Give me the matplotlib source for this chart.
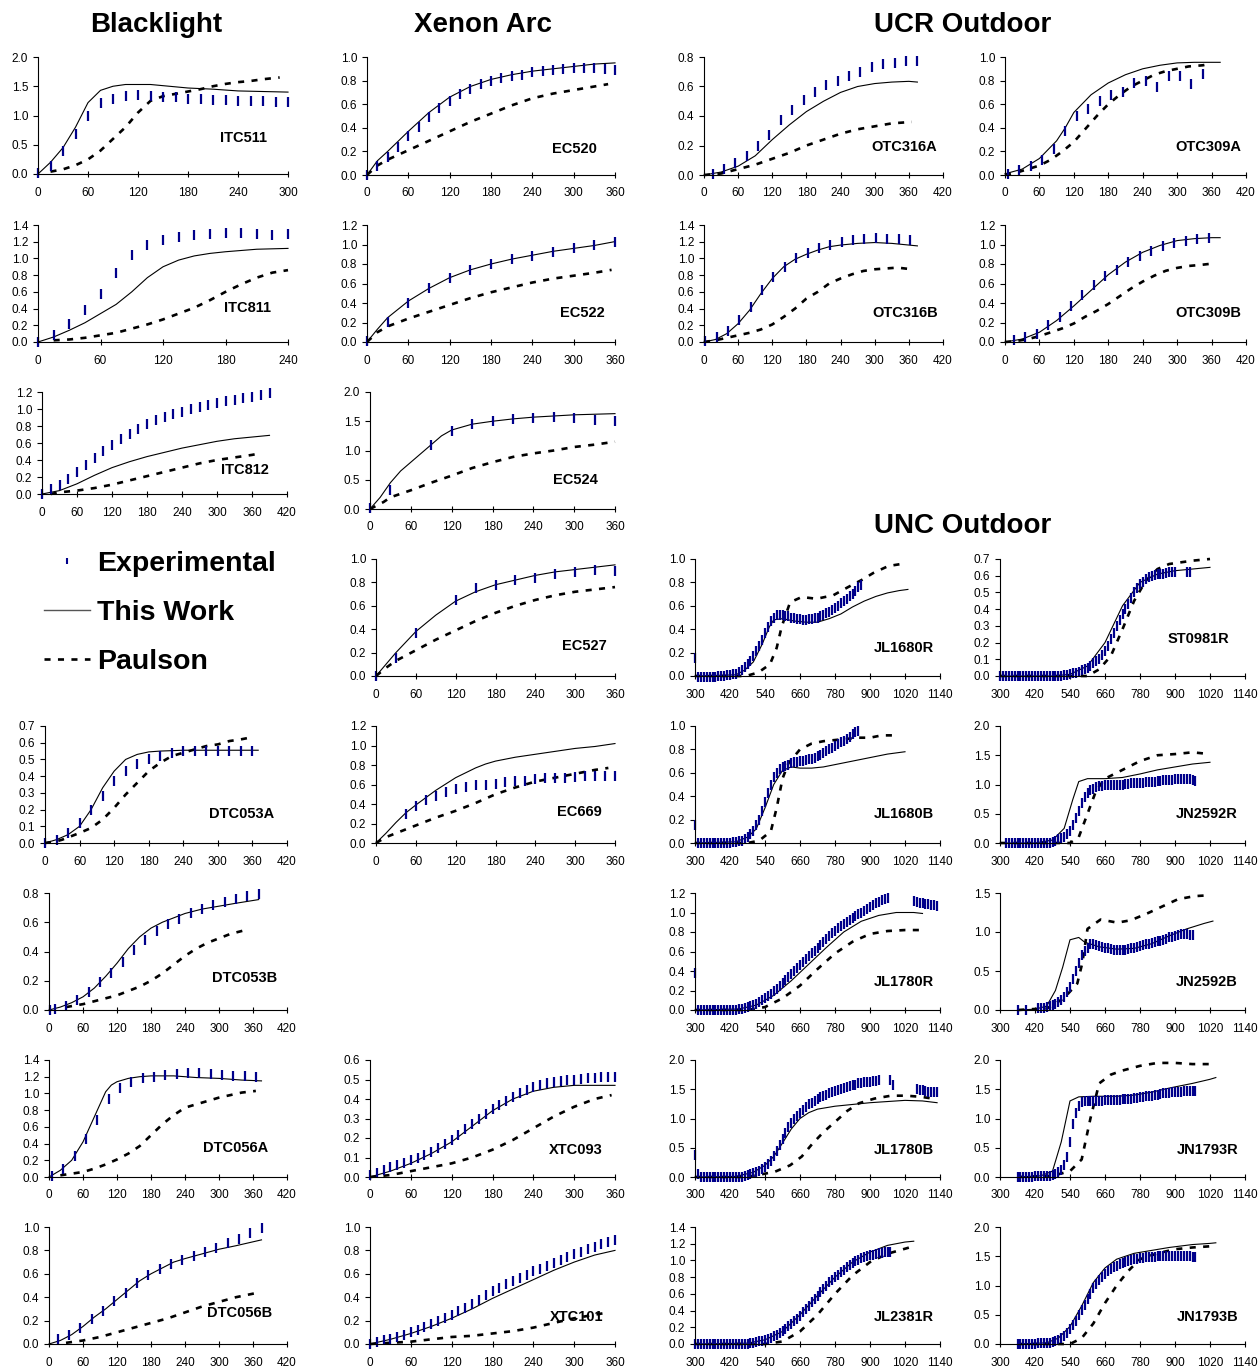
import numpy as np
import matplotlib
matplotlib.use("Agg")
import matplotlib.pyplot as plt
from matplotlib.lines import Line2D
from matplotlib.ticker import FixedLocator, FormatStrFormatter

W, H = 1258, 1367
plt.rcParams['font.family'] = ['Liberation Sans', 'DejaVu Sans']
NAVY = '#00008B'

# ---------------- Blacklight ----------------
ITC511_EXP_X = np.arange(0, 301, 15)
ITC511_EXP_Y = [0.01, 0.14, 0.40, 0.69, 1.00, 1.21, 1.29, 1.33, 1.35, 1.33, 1.31,
                1.31, 1.29, 1.28, 1.26, 1.26, 1.25, 1.24, 1.24, 1.23, 1.23]
ITC511_FIT = [(0, 0), (15, 0.2), (30, 0.45), (45, 0.8), (60, 1.22), (75, 1.43), (90, 1.5),
              (105, 1.53), (135, 1.53), (150, 1.51), (180, 1.47), (210, 1.45), (240, 1.42),
              (270, 1.41), (300, 1.40)]
ITC511_PAU = [(15, 0.04), (30, 0.08), (45, 0.15), (60, 0.25), (75, 0.4), (90, 0.6), (105, 0.8),
              (120, 1.05), (135, 1.25), (150, 1.33), (165, 1.37), (180, 1.41), (195, 1.45),
              (210, 1.50), (225, 1.54), (240, 1.57), (255, 1.59), (270, 1.62), (290, 1.65)]

ITC811_EXP_X = np.arange(0, 241, 15)
ITC811_EXP_Y = [0.0, 0.08, 0.22, 0.38, 0.57, 0.83, 1.04, 1.16, 1.22, 1.26, 1.28, 1.29,
                1.30, 1.30, 1.29, 1.28, 1.29]
ITC811_FIT = [(0, 0), (15, 0.06), (30, 0.14), (45, 0.23), (60, 0.34), (75, 0.45), (90, 0.6),
              (105, 0.77), (120, 0.9), (135, 0.98), (150, 1.03), (165, 1.06), (180, 1.08),
              (210, 1.11), (240, 1.12)]
ITC811_PAU = [(15, 0.02), (30, 0.03), (45, 0.05), (60, 0.08), (75, 0.11), (90, 0.16),
              (105, 0.21), (120, 0.27), (135, 0.34), (150, 0.41), (165, 0.5), (180, 0.6),
              (195, 0.69), (210, 0.77), (225, 0.83), (240, 0.86)]

ITC812_EXP_X = np.arange(0, 391, 15)
ITC812_EXP_Y = [0.0, 0.06, 0.11, 0.18, 0.26, 0.34, 0.42, 0.51, 0.58, 0.65, 0.71, 0.77,
                0.82, 0.87, 0.91, 0.94, 0.97, 1.00, 1.02, 1.05, 1.07, 1.09, 1.11, 1.13,
                1.14, 1.16, 1.19]
ITC812_FIT = [(0, 0), (30, 0.04), (60, 0.12), (90, 0.22), (120, 0.31), (150, 0.38),
              (180, 0.44), (210, 0.49), (240, 0.54), (270, 0.58), (300, 0.62), (330, 0.65),
              (360, 0.67), (390, 0.69)]
ITC812_PAU = [(15, 0.0), (30, 0.02), (60, 0.04), (90, 0.07), (120, 0.11), (150, 0.16),
              (180, 0.21), (210, 0.26), (240, 0.31), (270, 0.36), (300, 0.4), (330, 0.43),
              (360, 0.46), (375, 0.48)]

DTC053A_EXP_X = np.arange(0, 361, 20)
DTC053A_EXP_Y = [0.0, 0.02, 0.06, 0.12, 0.20, 0.28, 0.37, 0.43, 0.47, 0.50, 0.52, 0.54,
                 0.55, 0.55, 0.55, 0.55, 0.55, 0.55, 0.55]
DTC053A_FIT = [(0, 0), (20, 0.02), (40, 0.05), (60, 0.1), (80, 0.2), (100, 0.33), (120, 0.43),
               (140, 0.5), (160, 0.53), (180, 0.545), (200, 0.55), (240, 0.555), (370, 0.555)]
DTC053A_PAU = [(0, 0), (20, 0.01), (30, 0.02), (45, 0.04), (60, 0.06), (80, 0.09), (100, 0.14),
               (120, 0.21), (140, 0.29), (160, 0.36), (180, 0.43), (200, 0.48), (220, 0.52),
               (240, 0.54), (260, 0.56), (280, 0.58), (300, 0.59), (320, 0.61), (340, 0.62),
               (355, 0.63)]

DTC053B_EXP_X = [2, 10, 30, 50, 70, 90, 110, 130, 150, 170, 190, 210, 230, 250, 270, 290,
                 310, 330, 350, 370]
DTC053B_EXP_Y = [0.0, 0.01, 0.03, 0.07, 0.12, 0.19, 0.25, 0.33, 0.41, 0.48, 0.54, 0.59,
                 0.62, 0.66, 0.69, 0.72, 0.74, 0.76, 0.78, 0.79]
DTC053B_FIT = [(0, 0), (20, 0.02), (40, 0.05), (60, 0.09), (80, 0.15), (100, 0.23), (120, 0.32),
               (140, 0.42), (160, 0.5), (180, 0.56), (200, 0.6), (220, 0.63), (240, 0.66),
               (270, 0.69), (300, 0.71), (330, 0.73), (370, 0.755)]
DTC053B_PAU = [(30, 0.02), (60, 0.04), (80, 0.06), (100, 0.08), (120, 0.1), (140, 0.13),
               (160, 0.16), (180, 0.2), (200, 0.25), (220, 0.31), (240, 0.37), (260, 0.42),
               (280, 0.46), (300, 0.49), (320, 0.52), (350, 0.55)]

DTC056A_EXP_X = np.arange(5, 366, 20)
DTC056A_EXP_Y = [0.01, 0.10, 0.25, 0.45, 0.68, 0.93, 1.06, 1.14, 1.18, 1.20, 1.22, 1.23,
                 1.24, 1.24, 1.23, 1.22, 1.21, 1.21, 1.20]
DTC056A_FIT = [(0, 0), (20, 0.08), (40, 0.2), (60, 0.42), (80, 0.72), (100, 1.02), (110, 1.1),
               (120, 1.14), (140, 1.18), (160, 1.2), (180, 1.21), (220, 1.21), (260, 1.19),
               (300, 1.18), (340, 1.16), (375, 1.15)]
DTC056A_PAU = [(20, 0.02), (30, 0.03), (60, 0.06), (80, 0.1), (100, 0.15), (120, 0.21),
               (140, 0.28), (160, 0.37), (180, 0.5), (200, 0.63), (220, 0.74), (240, 0.83),
               (260, 0.87), (280, 0.91), (300, 0.95), (320, 0.98), (340, 1.01), (365, 1.03)]

DTC056B_EXP_X = np.arange(15, 376, 20)
DTC056B_EXP_Y = [0.04, 0.08, 0.14, 0.21, 0.28, 0.37, 0.44, 0.52, 0.59, 0.64, 0.68, 0.72,
                 0.75, 0.79, 0.82, 0.86, 0.90, 0.95, 0.99]
DTC056B_FIT = [(0, 0), (20, 0.03), (40, 0.08), (60, 0.15), (80, 0.23), (100, 0.3), (120, 0.38),
               (140, 0.46), (160, 0.54), (180, 0.6), (200, 0.65), (220, 0.7), (240, 0.73),
               (270, 0.77), (300, 0.81), (330, 0.84), (375, 0.89)]
DTC056B_PAU = [(30, 0.01), (60, 0.03), (90, 0.06), (120, 0.1), (150, 0.14), (180, 0.18),
               (210, 0.22), (240, 0.27), (270, 0.32), (300, 0.36), (330, 0.4), (370, 0.44)]

# ---------------- Xenon Arc ----------------
EC520_EXP_X = np.arange(0, 361, 15)
EC520_EXP_Y = [0.0, 0.08, 0.15, 0.24, 0.33, 0.41, 0.49, 0.57, 0.63, 0.69, 0.73, 0.77, 0.80,
               0.82, 0.84, 0.85, 0.87, 0.88, 0.89, 0.90, 0.91, 0.91, 0.91, 0.90, 0.89]
EC520_FIT = [(0, 0), (15, 0.12), (30, 0.2), (60, 0.37), (90, 0.53), (120, 0.66), (150, 0.75),
             (180, 0.81), (210, 0.85), (240, 0.88), (270, 0.9), (300, 0.92), (330, 0.94),
             (360, 0.95)]
EC520_PAU = [(0, 0), (15, 0.08), (30, 0.13), (60, 0.21), (90, 0.29), (120, 0.37), (150, 0.45),
             (180, 0.52), (210, 0.59), (240, 0.65), (270, 0.69), (300, 0.72), (330, 0.75),
             (350, 0.77)]

EC522_EXP_X = np.arange(0, 361, 30)
EC522_EXP_Y = [0.01, 0.21, 0.40, 0.55, 0.66, 0.74, 0.80, 0.85, 0.88, 0.92, 0.96, 0.99, 1.03]
EC522_FIT = [(0, 0), (15, 0.13), (30, 0.25), (60, 0.42), (90, 0.55), (120, 0.66), (150, 0.74),
             (180, 0.8), (210, 0.85), (240, 0.89), (270, 0.93), (300, 0.96), (330, 0.99),
             (360, 1.03)]
EC522_PAU = [(0, 0), (15, 0.1), (30, 0.16), (60, 0.24), (90, 0.31), (120, 0.38), (150, 0.45),
             (180, 0.51), (210, 0.56), (240, 0.61), (270, 0.65), (300, 0.68), (330, 0.71),
             (355, 0.74)]

EC524_EXP_X = [0, 30, 90, 120, 150, 180, 210, 240, 270, 300, 330, 360]
EC524_EXP_Y = [0.02, 0.32, 1.10, 1.33, 1.45, 1.50, 1.53, 1.56, 1.57, 1.55, 1.52, 1.50]
EC524_FIT = [(0, 0), (15, 0.2), (30, 0.45), (45, 0.65), (60, 0.8), (90, 1.1), (105, 1.25),
             (120, 1.35), (150, 1.45), (180, 1.5), (210, 1.54), (240, 1.57), (270, 1.59),
             (300, 1.61), (330, 1.62), (360, 1.63)]
EC524_PAU = [(0, 0), (20, 0.12), (30, 0.2), (45, 0.26), (60, 0.32), (90, 0.45), (120, 0.57),
             (150, 0.7), (180, 0.8), (210, 0.89), (240, 0.95), (270, 1.0), (300, 1.06),
             (330, 1.1), (360, 1.15)]

EC527_EXP_X = [0, 30, 60, 120, 150, 180, 210, 240, 270, 300, 330, 360]
EC527_EXP_Y = [0.0, 0.15, 0.37, 0.65, 0.75, 0.78, 0.82, 0.84, 0.87, 0.89, 0.91, 0.90]
EC527_FIT = [(0, 0), (15, 0.1), (30, 0.2), (60, 0.38), (90, 0.52), (120, 0.64), (150, 0.72),
             (180, 0.78), (210, 0.82), (240, 0.86), (270, 0.89), (300, 0.91), (330, 0.93),
             (360, 0.95)]
EC527_PAU = [(0, 0), (15, 0.07), (30, 0.13), (60, 0.22), (90, 0.31), (120, 0.39), (150, 0.47),
             (180, 0.54), (210, 0.6), (240, 0.65), (270, 0.69), (300, 0.72), (330, 0.74),
             (360, 0.76)]

EC669_EXP_X = np.arange(45, 361, 15)
EC669_EXP_Y = [0.30, 0.38, 0.44, 0.48, 0.52, 0.55, 0.57, 0.59, 0.60, 0.61, 0.63, 0.64,
               0.64, 0.66, 0.67, 0.67, 0.67, 0.68, 0.69, 0.69, 0.69, 0.69]
EC669_FIT = [(0, 0), (15, 0.1), (30, 0.21), (45, 0.31), (60, 0.39), (90, 0.54), (120, 0.67),
             (150, 0.77), (165, 0.81), (180, 0.84), (210, 0.88), (240, 0.91), (270, 0.94),
             (300, 0.97), (330, 0.99), (360, 1.02)]
EC669_PAU = [(0, 0), (15, 0.06), (30, 0.1), (60, 0.18), (90, 0.26), (120, 0.33), (150, 0.41),
             (180, 0.5), (210, 0.57), (240, 0.63), (270, 0.67), (300, 0.71), (330, 0.75),
             (350, 0.77)]

XTC093_EXP_X = np.arange(0, 361, 10)
XTC093_EXP_Y = [0.01, 0.02, 0.035, 0.05, 0.06, 0.07, 0.085, 0.10, 0.115, 0.13,
                0.15, 0.17, 0.19, 0.215, 0.245, 0.27, 0.30, 0.325, 0.35, 0.37,
                0.39, 0.41, 0.43, 0.445, 0.46, 0.47, 0.48, 0.485, 0.49, 0.495,
                0.50, 0.505, 0.51, 0.51, 0.512, 0.514, 0.515]
XTC093_FIT = [(0, 0), (30, 0.03), (60, 0.07), (90, 0.12), (120, 0.18), (150, 0.26),
              (180, 0.34), (210, 0.4), (240, 0.44), (270, 0.46), (300, 0.47), (330, 0.47),
              (360, 0.47)]
XTC093_PAU = [(0, 0), (30, 0.01), (60, 0.03), (90, 0.05), (120, 0.07), (150, 0.1),
              (180, 0.14), (210, 0.19), (240, 0.25), (270, 0.31), (300, 0.36), (330, 0.4),
              (355, 0.42)]

XTC101_EXP_X = np.arange(0, 361, 10)
XTC101_EXP_Y = [0.0, 0.015, 0.03, 0.045, 0.06, 0.08, 0.10, 0.12, 0.145, 0.17,
                0.195, 0.22, 0.25, 0.28, 0.31, 0.345, 0.38, 0.415, 0.45, 0.48,
                0.51, 0.54, 0.565, 0.59, 0.62, 0.645, 0.67, 0.695, 0.72, 0.745,
                0.77, 0.79, 0.81, 0.83, 0.855, 0.875, 0.89]
XTC101_FIT = [(0, 0), (30, 0.04), (60, 0.09), (90, 0.15), (120, 0.22), (150, 0.3),
              (180, 0.39), (210, 0.47), (240, 0.55), (270, 0.63), (300, 0.7), (330, 0.76),
              (360, 0.8)]
XTC101_PAU = [(0, 0), (30, 0.01), (60, 0.02), (90, 0.04), (120, 0.06), (150, 0.07),
              (180, 0.09), (210, 0.11), (240, 0.14), (270, 0.18), (300, 0.22), (330, 0.25),
              (350, 0.27)]

# ---------------- UCR Outdoor ----------------
OTC316A_EXP_X = np.arange(15, 376, 20)
OTC316A_EXP_Y = [0.01, 0.04, 0.08, 0.13, 0.20, 0.27, 0.37, 0.44, 0.51, 0.56, 0.61, 0.64,
                 0.67, 0.70, 0.73, 0.75, 0.76, 0.77, 0.77]
OTC316A_FIT = [(0, 0), (30, 0.02), (60, 0.06), (90, 0.13), (120, 0.24), (150, 0.34),
               (180, 0.43), (210, 0.5), (240, 0.56), (270, 0.6), (300, 0.62), (330, 0.63),
               (360, 0.635), (375, 0.63)]
OTC316A_PAU = [(0, 0), (30, 0.01), (60, 0.04), (90, 0.07), (120, 0.11), (150, 0.15),
               (180, 0.2), (210, 0.24), (240, 0.28), (270, 0.31), (300, 0.33), (330, 0.35),
               (365, 0.36)]

OTC309A_EXP_X = np.arange(5, 346, 20)
OTC309A_EXP_Y = [0.01, 0.04, 0.08, 0.13, 0.22, 0.37, 0.50, 0.56, 0.63, 0.68, 0.70, 0.78,
                 0.80, 0.75, 0.84, 0.84, 0.77, 0.86]
OTC309A_FIT = [(0, 0.01), (30, 0.05), (60, 0.14), (90, 0.29), (105, 0.4), (120, 0.53),
               (150, 0.68), (180, 0.78), (210, 0.85), (240, 0.9), (270, 0.93), (300, 0.95),
               (330, 0.955), (375, 0.955)]
OTC309A_PAU = [(0, 0), (20, 0.02), (40, 0.05), (60, 0.08), (80, 0.13), (100, 0.2),
               (120, 0.28), (140, 0.39), (160, 0.5), (180, 0.6), (200, 0.68), (220, 0.75),
               (240, 0.8), (260, 0.85), (280, 0.88), (300, 0.9), (320, 0.92), (345, 0.93),
               (355, 0.94)]

OTC316B_EXP_X = np.arange(2, 363, 20)
OTC316B_EXP_Y = [0.01, 0.06, 0.13, 0.26, 0.42, 0.62, 0.78, 0.90, 1.00, 1.07, 1.13, 1.16,
                 1.20, 1.22, 1.23, 1.24, 1.23, 1.23, 1.22]
OTC316B_FIT = [(0, 0), (20, 0.03), (40, 0.1), (60, 0.22), (80, 0.38), (100, 0.58),
               (120, 0.76), (140, 0.9), (160, 0.99), (180, 1.05), (200, 1.1), (220, 1.14),
               (240, 1.16), (270, 1.18), (300, 1.19), (330, 1.18), (360, 1.16), (375, 1.15)]
OTC316B_PAU = [(0, 0), (20, 0.02), (40, 0.05), (60, 0.08), (80, 0.11), (100, 0.15),
               (120, 0.21), (140, 0.3), (160, 0.4), (180, 0.52), (200, 0.6), (220, 0.7),
               (240, 0.76), (260, 0.81), (280, 0.85), (300, 0.87), (320, 0.88), (340, 0.89),
               (365, 0.87)]

OTC309B_EXP_X = np.arange(15, 356, 20)
OTC309B_EXP_Y = [0.02, 0.05, 0.08, 0.17, 0.26, 0.37, 0.48, 0.58, 0.68, 0.74, 0.82, 0.88,
                 0.93, 0.98, 1.02, 1.04, 1.06, 1.07]
OTC309B_FIT = [(0, 0), (30, 0.03), (60, 0.1), (90, 0.22), (120, 0.37), (150, 0.53),
               (180, 0.69), (210, 0.82), (240, 0.92), (270, 0.99), (300, 1.04), (330, 1.06),
               (360, 1.07), (375, 1.07)]
OTC309B_PAU = [(0, 0), (20, 0.01), (40, 0.03), (60, 0.06), (80, 0.1), (100, 0.14),
               (120, 0.19), (140, 0.26), (160, 0.32), (180, 0.39), (200, 0.47), (220, 0.55),
               (240, 0.62), (260, 0.68), (280, 0.73), (300, 0.76), (320, 0.78), (340, 0.79),
               (355, 0.8)]

# ---------------- UNC Outdoor (experimental every 10 min from START) ----------------
nan = np.nan
JL1680R_START = 300
JL1680R_EXP_Y = [0.15, -0.01, -0.01, -0.01, -0.01, -0.01, -0.01, -0.005, 0.0, 0.0,
                 0.0, 0.005, 0.01, 0.015, 0.02, 0.035, 0.05, 0.075, 0.10, 0.13,
                 0.17, 0.21, 0.26, 0.31, 0.37, 0.42, 0.47, 0.50, 0.52, 0.52,
                 0.52, 0.515, 0.51, 0.50, 0.495, 0.49, 0.485, 0.48, 0.48, 0.485,
                 0.49, 0.495, 0.50, 0.51, 0.52, 0.535, 0.55, 0.565, 0.58, 0.60,
                 0.62, 0.64, 0.66, 0.68, 0.70, 0.73, 0.76, 0.78]
JL1680R_FIT = [(300, 0), (440, 0.01), (470, 0.05), (500, 0.12), (530, 0.27), (555, 0.42),
               (570, 0.48), (600, 0.49), (640, 0.47), (680, 0.46), (720, 0.46), (760, 0.49),
               (800, 0.53), (840, 0.59), (880, 0.64), (920, 0.68), (960, 0.71), (1000, 0.73),
               (1030, 0.74)]
JL1680R_PAU = [(300, 0), (475, 0.0), (517, 0.03), (557, 0.1), (580, 0.24), (597, 0.42),
               (626, 0.63), (666, 0.675), (717, 0.66), (774, 0.69), (825, 0.76), (871, 0.82),
               (911, 0.88), (963, 0.94), (1014, 0.96)]

JL1680B_START = 300
JL1680B_EXP_Y = [0.15, 0.0, 0.0, 0.0, 0.0, 0.0, 0.0, 0.0, 0.0, 0.0,
                 0.0, 0.0, 0.0, 0.005, 0.01, 0.015, 0.02, 0.035, 0.05, 0.075,
                 0.10, 0.15, 0.20, 0.27, 0.35, 0.43, 0.50, 0.56, 0.60, 0.63,
                 0.65, 0.66, 0.67, 0.68, 0.69, 0.695, 0.70, 0.705, 0.71, 0.715,
                 0.72, 0.73, 0.74, 0.755, 0.77, 0.785, 0.80, 0.815, 0.83, 0.845,
                 0.86, 0.875, 0.89, 0.91, 0.93, 0.95, 0.96]
JL1680B_FIT = [(300, 0), (440, 0.01), (480, 0.05), (510, 0.12), (540, 0.3), (570, 0.5),
               (600, 0.62), (630, 0.65), (660, 0.64), (700, 0.64), (740, 0.65), (780, 0.67),
               (840, 0.7), (900, 0.73), (960, 0.76), (1020, 0.78)]
JL1680B_PAU = [(300, 0), (480, 0.0), (520, 0.02), (560, 0.1), (580, 0.3), (600, 0.55),
               (620, 0.68), (660, 0.8), (700, 0.85), (740, 0.87), (780, 0.88), (820, 0.89),
               (860, 0.9), (900, 0.9), (940, 0.92), (980, 0.92)]

JL1780R_START = 300
JL1780R_EXP_Y = [0.38, 0.0, 0.0, 0.0, 0.0, 0.0, 0.0, 0.0, 0.0, 0.0,
                 0.0, 0.0, 0.0, 0.0, 0.0, 0.01, 0.015, 0.02, 0.03, 0.04,
                 0.05, 0.065, 0.08, 0.10, 0.12, 0.14, 0.165, 0.19, 0.22, 0.25,
                 0.28, 0.31, 0.34, 0.37, 0.40, 0.43, 0.46, 0.49, 0.52, 0.55,
                 0.58, 0.61, 0.64, 0.67, 0.70, 0.73, 0.76, 0.79, 0.81, 0.84,
                 0.86, 0.88, 0.90, 0.92, 0.94, 0.96, 0.98, 1.00, 1.02, 1.04,
                 1.06, 1.08, 1.10, 1.11, 1.13, 1.14, 1.15, nan, nan, nan,
                 nan, nan, nan, nan, nan, 1.12, 1.11, 1.10, 1.10, 1.09,
                 1.09, 1.08, 1.08, 1.07]
JL1780R_FIT = [(300, 0), (450, 0.01), (510, 0.05), (570, 0.15), (630, 0.3), (690, 0.47),
               (750, 0.64), (810, 0.8), (870, 0.91), (930, 0.97), (990, 1.0), (1050, 1.0),
               (1080, 0.99)]
JL1780R_PAU = [(300, 0), (480, 0), (540, 0.03), (600, 0.12), (660, 0.25), (720, 0.42),
               (780, 0.58), (840, 0.7), (900, 0.78), (960, 0.81), (1020, 0.82), (1080, 0.82)]

JL1780B_START = 300
JL1780B_EXP_Y = [0.37, 0.05, 0.0, 0.0, 0.0, 0.0, 0.0, 0.0, 0.0, 0.0,
                 0.0, 0.0, 0.0, 0.0, 0.0, 0.0, 0.0, 0.02, 0.03, 0.045,
                 0.06, 0.08, 0.10, 0.13, 0.17, 0.22, 0.28, 0.36, 0.45, 0.55,
                 0.65, 0.75, 0.85, 0.93, 1.00, 1.05, 1.10, 1.15, 1.20, 1.24,
                 1.27, 1.30, 1.33, 1.36, 1.38, 1.41, 1.43, 1.45, 1.47, 1.49,
                 1.51, 1.52, 1.54, 1.55, 1.57, 1.58, 1.60, 1.61, 1.62, 1.62,
                 1.63, 1.64, 1.64, 1.65, nan, nan, nan, 1.65, 1.58, nan,
                 nan, nan, nan, nan, nan, nan, 1.50, 1.49, 1.48, 1.47,
                 1.46, 1.45, 1.45, 1.45]
JL1780B_FIT = [(300, 0), (440, 0.01), (500, 0.08), (540, 0.2), (570, 0.35), (600, 0.58),
               (630, 0.82), (660, 1.0), (690, 1.1), (720, 1.16), (780, 1.21), (840, 1.24),
               (900, 1.27), (960, 1.29), (1020, 1.31), (1080, 1.3), (1130, 1.27)]
JL1780B_PAU = [(300, 0), (475, 0.0), (522, 0.04), (574, 0.09), (626, 0.2), (666, 0.35),
               (701, 0.56), (741, 0.77), (782, 0.95), (822, 1.13), (862, 1.26), (915, 1.34),
               (972, 1.39), (1024, 1.39), (1076, 1.37), (1128, 1.33)]

JL2381R_START = 300
JL2381R_EXP_Y = [0.0, 0.0, 0.0, 0.0, 0.0, 0.0, 0.0, 0.0, 0.0, 0.0,
                 0.0, 0.0, 0.0, 0.0, 0.0, 0.0, 0.0, 0.0, 0.005, 0.01,
                 0.015, 0.02, 0.03, 0.04, 0.05, 0.06, 0.075, 0.09, 0.11, 0.13,
                 0.15, 0.18, 0.21, 0.24, 0.27, 0.30, 0.34, 0.38, 0.42, 0.46,
                 0.50, 0.54, 0.58, 0.62, 0.66, 0.70, 0.74, 0.77, 0.80, 0.83,
                 0.86, 0.89, 0.92, 0.95, 0.97, 0.99, 1.01, 1.03, 1.04, 1.05,
                 1.06, 1.07, 1.08, 1.09, 1.09, 1.10, 1.10, 1.10]
JL2381R_FIT = [(300, 0), (480, 0.01), (540, 0.05), (600, 0.15), (660, 0.35), (720, 0.58),
               (780, 0.8), (840, 0.98), (900, 1.1), (960, 1.18), (1020, 1.22), (1050, 1.23)]
JL2381R_PAU = [(300, 0), (540, 0.0), (600, 0.03), (660, 0.15), (720, 0.35), (780, 0.6),
               (840, 0.82), (900, 0.98), (960, 1.08), (1040, 1.16)]

ST0981R_START = 300
ST0981R_EXP_Y = [0.0, 0.0, 0.0, 0.0, 0.0, 0.0, 0.0, 0.0, 0.0, 0.0,
                 0.0, 0.0, 0.0, 0.0, 0.0, 0.0, 0.0, 0.0, 0.0, 0.0,
                 0.0, 0.0, 0.005, 0.005, 0.01, 0.015, 0.02, 0.025, 0.035, 0.04,
                 0.05, 0.06, 0.075, 0.09, 0.10, 0.125, 0.15, 0.18, 0.22, 0.26,
                 0.30, 0.335, 0.37, 0.40, 0.43, 0.465, 0.50, 0.525, 0.55, 0.565,
                 0.58, 0.59, 0.60, 0.605, 0.61, 0.61, 0.61, 0.615, 0.62, 0.62,
                 0.62, nan, nan, nan, 0.62, 0.62]
ST0981R_FIT = [(300, 0), (480, 0.0), (540, 0.01), (600, 0.06), (660, 0.2), (720, 0.42),
               (780, 0.56), (840, 0.61), (900, 0.63), (960, 0.64), (1020, 0.65)]
ST0981R_PAU = [(300, 0), (600, 0.0), (640, 0.04), (680, 0.12), (720, 0.28), (760, 0.45),
               (800, 0.57), (840, 0.64), (880, 0.67), (920, 0.68), (960, 0.69), (1020, 0.7)]

JN2592R_START = 320
JN2592R_EXP_Y = [0.0, 0.0, 0.0, 0.0, 0.0, 0.0, 0.0, 0.0, 0.0, 0.0,
                 0.0, 0.0, 0.0, 0.0, 0.0, 0.0, 0.02, 0.04, 0.06, 0.08,
                 0.11, 0.15, 0.20, 0.30, 0.42, 0.55, 0.68, 0.78, 0.85, 0.90,
                 0.93, 0.95, 0.97, 0.98, 0.99, 0.995, 1.0, 1.0, 1.0, 1.0,
                 1.0, 1.01, 1.01, 1.02, 1.02, 1.02, 1.03, 1.03, 1.04, 1.04,
                 1.05, 1.05, 1.06, 1.06, 1.07, 1.07, 1.08, 1.08, 1.09, 1.09,
                 1.10, 1.10, 1.10, 1.09, 1.08, 1.06]
JN2592R_FIT = [(300, 0), (420, 0.0), (480, 0.05), (520, 0.25), (550, 0.75), (570, 1.05),
               (600, 1.1), (660, 1.1), (720, 1.12), (780, 1.18), (840, 1.25), (900, 1.3),
               (960, 1.35), (1020, 1.38)]
JN2592R_PAU = [(300, 0), (540, 0.0), (570, 0.1), (600, 0.5), (630, 0.9), (660, 1.1),
               (700, 1.2), (740, 1.3), (780, 1.4), (840, 1.5), (900, 1.52), (960, 1.55),
               (1020, 1.52)]

JN2592B_START = 360
JN2592B_EXP_Y = [0.0, nan, nan, 0.0, nan, nan, nan, 0.02, 0.025, 0.03,
                 0.04, 0.05, 0.06, 0.08, 0.10, 0.13, 0.17, 0.23, 0.30, 0.40,
                 0.50, 0.60, 0.70, 0.76, 0.80, 0.84, 0.84, 0.83, 0.82, 0.81,
                 0.80, 0.79, 0.78, 0.775, 0.77, 0.77, 0.77, 0.775, 0.78, 0.79,
                 0.80, 0.81, 0.82, 0.83, 0.84, 0.85, 0.86, 0.87, 0.88, 0.89,
                 0.90, 0.915, 0.93, 0.94, 0.95, 0.96, 0.97, 0.97, 0.97, 0.965,
                 0.96]
JN2592B_FIT = [(360, 0), (420, 0.01), (460, 0.05), (490, 0.25), (515, 0.55), (540, 0.9),
               (570, 0.93), (590, 0.87), (640, 0.81), (700, 0.78), (760, 0.79), (820, 0.85),
               (880, 0.95), (940, 1.04), (1000, 1.11), (1030, 1.14)]
JN2592B_PAU = [(363, 0), (404, 0.01), (461, 0.02), (519, 0.15), (565, 0.34), (582, 0.6),
               (600, 1.04), (645, 1.16), (702, 1.12), (748, 1.15), (806, 1.24), (852, 1.32),
               (910, 1.42), (967, 1.46), (1013, 1.47)]

JN1793R_START = 360
JN1793R_EXP_Y = [0.0, 0.0, 0.0, 0.0, 0.0, 0.005, 0.01, 0.01, 0.015, 0.02,
                 0.02, 0.025, 0.03, 0.05, 0.08, 0.12, 0.20, 0.35, 0.60, 0.90,
                 1.10, 1.22, 1.28, 1.30, 1.30, 1.30, 1.30, 1.30, 1.30, 1.30,
                 1.31, 1.31, 1.31, 1.32, 1.32, 1.32, 1.33, 1.33, 1.34, 1.34,
                 1.35, 1.35, 1.36, 1.37, 1.38, 1.38, 1.39, 1.40, 1.41, 1.42,
                 1.43, 1.43, 1.44, 1.45, 1.45, 1.46, 1.46, 1.47, 1.47, 1.47,
                 1.47, 1.47]
JN1793R_FIT = [(360, 0), (440, 0.02), (480, 0.1), (510, 0.6), (540, 1.3), (570, 1.37),
               (620, 1.38), (700, 1.38), (760, 1.4), (820, 1.45), (880, 1.52), (960, 1.6),
               (1020, 1.67), (1040, 1.7)]
JN1793R_PAU = [(360, 0), (480, 0.02), (540, 0.1), (580, 0.3), (610, 1.0), (640, 1.6),
               (680, 1.75), (720, 1.82), (780, 1.9), (840, 1.95), (900, 1.95), (960, 1.93),
               (1020, 1.93)]

JN1793B_START = 360
JN1793B_EXP_Y = [0.0, 0.0, 0.0, 0.0, 0.0, 0.0, 0.005, 0.01, 0.01, 0.015,
                 0.02, 0.025, 0.03, 0.045, 0.07, 0.10, 0.14, 0.19, 0.25, 0.32,
                 0.40, 0.49, 0.58, 0.67, 0.77, 0.86, 0.95, 1.03, 1.10, 1.15,
                 1.20, 1.24, 1.28, 1.31, 1.34, 1.37, 1.39, 1.41, 1.42, 1.43,
                 1.45, 1.46, 1.47, 1.47, 1.48, 1.48, 1.49, 1.49, 1.50, 1.50,
                 1.50, 1.50, 1.50, 1.50, 1.50, 1.50, 1.50, 1.50, 1.50, 1.50,
                 1.49, 1.48]
JN1793B_FIT = [(360, 0), (460, 0.02), (500, 0.1), (540, 0.3), (580, 0.65), (620, 1.05),
               (660, 1.3), (700, 1.45), (760, 1.55), (820, 1.6), (880, 1.65), (960, 1.7),
               (1020, 1.72), (1040, 1.73)]
JN1793B_PAU = [(360, 0), (540, 0.0), (580, 0.1), (620, 0.35), (660, 0.7), (700, 1.0),
               (740, 1.25), (780, 1.45), (840, 1.55), (900, 1.62), (960, 1.65), (1020, 1.67),
               (1040, 1.68)]


def unc_x(start, ys):
    return start + 10 * np.arange(len(ys))


# name, exp x, exp y, fit, paulson, x axis (min, max, step), y axis (max, step)
PANELS = [
    ("ITC511", ITC511_EXP_X, ITC511_EXP_Y, ITC511_FIT, ITC511_PAU, (0, 300, 60), (2.0, 0.5)),
    ("EC520", EC520_EXP_X, EC520_EXP_Y, EC520_FIT, EC520_PAU, (0, 360, 60), (1.0, 0.2)),
    ("OTC316A", OTC316A_EXP_X, OTC316A_EXP_Y, OTC316A_FIT, OTC316A_PAU, (0, 420, 60), (0.8, 0.2)),
    ("OTC309A", OTC309A_EXP_X, OTC309A_EXP_Y, OTC309A_FIT, OTC309A_PAU, (0, 420, 60), (1.0, 0.2)),
    ("ITC811", ITC811_EXP_X, ITC811_EXP_Y, ITC811_FIT, ITC811_PAU, (0, 240, 60), (1.4, 0.2)),
    ("EC522", EC522_EXP_X, EC522_EXP_Y, EC522_FIT, EC522_PAU, (0, 360, 60), (1.2, 0.2)),
    ("OTC316B", OTC316B_EXP_X, OTC316B_EXP_Y, OTC316B_FIT, OTC316B_PAU, (0, 420, 60), (1.4, 0.2)),
    ("OTC309B", OTC309B_EXP_X, OTC309B_EXP_Y, OTC309B_FIT, OTC309B_PAU, (0, 420, 60), (1.2, 0.2)),
    ("ITC812", ITC812_EXP_X, ITC812_EXP_Y, ITC812_FIT, ITC812_PAU, (0, 420, 60), (1.2, 0.2)),
    ("EC524", EC524_EXP_X, EC524_EXP_Y, EC524_FIT, EC524_PAU, (0, 360, 60), (2.0, 0.5)),
    ("EC527", EC527_EXP_X, EC527_EXP_Y, EC527_FIT, EC527_PAU, (0, 360, 60), (1.0, 0.2)),
    ("JL1680R", unc_x(JL1680R_START, JL1680R_EXP_Y), JL1680R_EXP_Y, JL1680R_FIT, JL1680R_PAU,
     (300, 1140, 120), (1.0, 0.2)),
    ("ST0981R", unc_x(ST0981R_START, ST0981R_EXP_Y), ST0981R_EXP_Y, ST0981R_FIT, ST0981R_PAU,
     (300, 1140, 120), (0.7, 0.1)),
    ("DTC053A", DTC053A_EXP_X, DTC053A_EXP_Y, DTC053A_FIT, DTC053A_PAU, (0, 420, 60), (0.7, 0.1)),
    ("EC669", EC669_EXP_X, EC669_EXP_Y, EC669_FIT, EC669_PAU, (0, 360, 60), (1.2, 0.2)),
    ("JL1680B", unc_x(JL1680B_START, JL1680B_EXP_Y), JL1680B_EXP_Y, JL1680B_FIT, JL1680B_PAU,
     (300, 1140, 120), (1.0, 0.2)),
    ("JN2592R", unc_x(JN2592R_START, JN2592R_EXP_Y), JN2592R_EXP_Y, JN2592R_FIT, JN2592R_PAU,
     (300, 1140, 120), (2.0, 0.5)),
    ("DTC053B", DTC053B_EXP_X, DTC053B_EXP_Y, DTC053B_FIT, DTC053B_PAU, (0, 420, 60), (0.8, 0.2)),
    ("JL1780R", unc_x(JL1780R_START, JL1780R_EXP_Y), JL1780R_EXP_Y, JL1780R_FIT, JL1780R_PAU,
     (300, 1140, 120), (1.2, 0.2)),
    ("JN2592B", unc_x(JN2592B_START, JN2592B_EXP_Y), JN2592B_EXP_Y, JN2592B_FIT, JN2592B_PAU,
     (300, 1140, 120), (1.5, 0.5)),
    ("DTC056A", DTC056A_EXP_X, DTC056A_EXP_Y, DTC056A_FIT, DTC056A_PAU, (0, 420, 60), (1.4, 0.2)),
    ("XTC093", XTC093_EXP_X, XTC093_EXP_Y, XTC093_FIT, XTC093_PAU, (0, 360, 60), (0.6, 0.1)),
    ("JL1780B", unc_x(JL1780B_START, JL1780B_EXP_Y), JL1780B_EXP_Y, JL1780B_FIT, JL1780B_PAU,
     (300, 1140, 120), (2.0, 0.5)),
    ("JN1793R", unc_x(JN1793R_START, JN1793R_EXP_Y), JN1793R_EXP_Y, JN1793R_FIT, JN1793R_PAU,
     (300, 1140, 120), (2.0, 0.5)),
    ("DTC056B", DTC056B_EXP_X, DTC056B_EXP_Y, DTC056B_FIT, DTC056B_PAU, (0, 420, 60), (1.0, 0.2)),
    ("XTC101", XTC101_EXP_X, XTC101_EXP_Y, XTC101_FIT, XTC101_PAU, (0, 360, 60), (1.0, 0.2)),
    ("JL2381R", unc_x(JL2381R_START, JL2381R_EXP_Y), JL2381R_EXP_Y, JL2381R_FIT, JL2381R_PAU,
     (300, 1140, 120), (1.4, 0.2)),
    ("JN1793B", unc_x(JN1793B_START, JN1793B_EXP_Y), JN1793B_EXP_Y, JN1793B_FIT, JN1793B_PAU,
     (300, 1140, 120), (2.0, 0.5)),
]

# plot boxes in pixels (left, top, right, bottom) and label anchor (right edge, centre y)
BOXES = {
    "ITC511": (38, 57, 288, 174, 267, 138),
    "EC520": (367, 57, 615, 175, 597, 149),
    "OTC316A": (704, 57, 943, 175, 937, 147),
    "OTC309A": (1005, 57, 1246, 175, 1241, 147),
    "ITC811": (38, 225, 288, 342, 271, 308),
    "EC522": (367, 225, 615, 342, 605, 313),
    "OTC316B": (704, 225, 943, 342, 938, 313),
    "OTC309B": (1005, 225, 1246, 342, 1241, 313),
    "ITC812": (42, 392, 287, 494, 269, 470),
    "EC524": (370, 392, 615, 509, 598, 480),
    "EC527": (376, 559, 615, 676, 607, 646),
    "JL1680R": (695, 559, 940, 676, 934, 648),
    "ST0981R": (1000, 559, 1245, 676, 1229, 639),
    "DTC053A": (45, 726, 287, 843, 274, 814),
    "EC669": (376, 726, 615, 843, 602, 812),
    "JL1680B": (695, 726, 940, 843, 934, 814),
    "JN2592R": (1000, 726, 1245, 843, 1238, 814),
    "DTC053B": (49, 893, 287, 1010, 277, 978),
    "JL1780R": (695, 893, 940, 1010, 934, 982),
    "JN2592B": (1000, 893, 1245, 1010, 1238, 982),
    "DTC056A": (49, 1060, 287, 1177, 268, 1148),
    "XTC093": (370, 1060, 615, 1177, 603, 1150),
    "JL1780B": (695, 1060, 940, 1177, 934, 1150),
    "JN1793R": (1000, 1060, 1245, 1177, 1238, 1150),
    "DTC056B": (49, 1227, 287, 1344, 272, 1313),
    "XTC101": (370, 1227, 615, 1344, 603, 1317),
    "JL2381R": (695, 1227, 940, 1344, 934, 1317),
    "JN1793B": (1000, 1227, 1245, 1344, 1238, 1317),
}

fig = plt.figure(figsize=(W / 100, H / 100), dpi=100)

pau_style = dict(color='black', lw=1.9, ls=(0, (2.3, 2.8)), dash_capstyle='butt', clip_on=False)
fit_style = dict(color='black', lw=0.8, clip_on=False)
exp_style = dict(ls='none', marker='|', ms=6.5, mew=1.6, color=NAVY, clip_on=False)

for name, ex, ey, fit, pau, (x0, x1, xs), (ymax, ys) in PANELS:
    l, t, r, b, lx, ly = BOXES[name]
    ax = fig.add_axes([l / W, 1 - b / H, (r - l) / W, (b - t) / H])
    px, py = zip(*pau)
    fx, fy = zip(*fit)
    ax.plot(px, py, **pau_style)
    ax.plot(fx, fy, **fit_style)
    ax.plot(ex, ey, **exp_style)
    ax.set_xlim(x0, x1)
    ax.set_ylim(0, ymax)
    ax.xaxis.set_major_locator(FixedLocator(np.arange(x0, x1 + 1, xs)))
    ax.yaxis.set_major_locator(FixedLocator(np.arange(0, ymax + 1e-6, ys)))
    ax.yaxis.set_major_formatter(FormatStrFormatter('%.1f'))
    for side in ('top', 'right'):
        ax.spines[side].set_visible(False)
    for side in ('left', 'bottom'):
        ax.spines[side].set_linewidth(0.8)
    ax.tick_params(axis='x', direction='inout', length=5, width=0.8, labelsize=8.5, pad=6.5)
    ax.tick_params(axis='y', direction='out', length=3.5, width=0.8, labelsize=8.5, pad=3.5)
    fig.text(lx / W, 1 - ly / H, name, ha='right', va='center', fontsize=10.5,
             fontweight='bold')

# column titles
for label, cx, cy in [("Blacklight", 156, 25), ("Xenon Arc", 483, 25),
                      ("UCR Outdoor", 963, 25), ("UNC Outdoor", 963, 526)]:
    fig.text(cx / W, 1 - cy / H, label, ha='center', va='center', fontsize=20,
             fontweight='bold')

# legend
handles = [Line2D([], [], ls='none', marker='|', ms=4, mew=1.5, color=NAVY),
           Line2D([], [], color='#555555', lw=1.0),
           Line2D([], [], color='black', lw=1.9, ls=(0, (2.3, 2.8)), dash_capstyle='butt')]
fig.legend(handles, ["Experimental", "This Work", "Paulson"], loc='upper left',
           bbox_to_anchor=(44 / W, 1 - 551 / H), frameon=False,
           prop=dict(weight='bold', size=20.5), handlelength=1.6, handletextpad=0.25,
           labelspacing=0.8, borderpad=0, borderaxespad=0)

fig.savefig("out.png", dpi=100)
